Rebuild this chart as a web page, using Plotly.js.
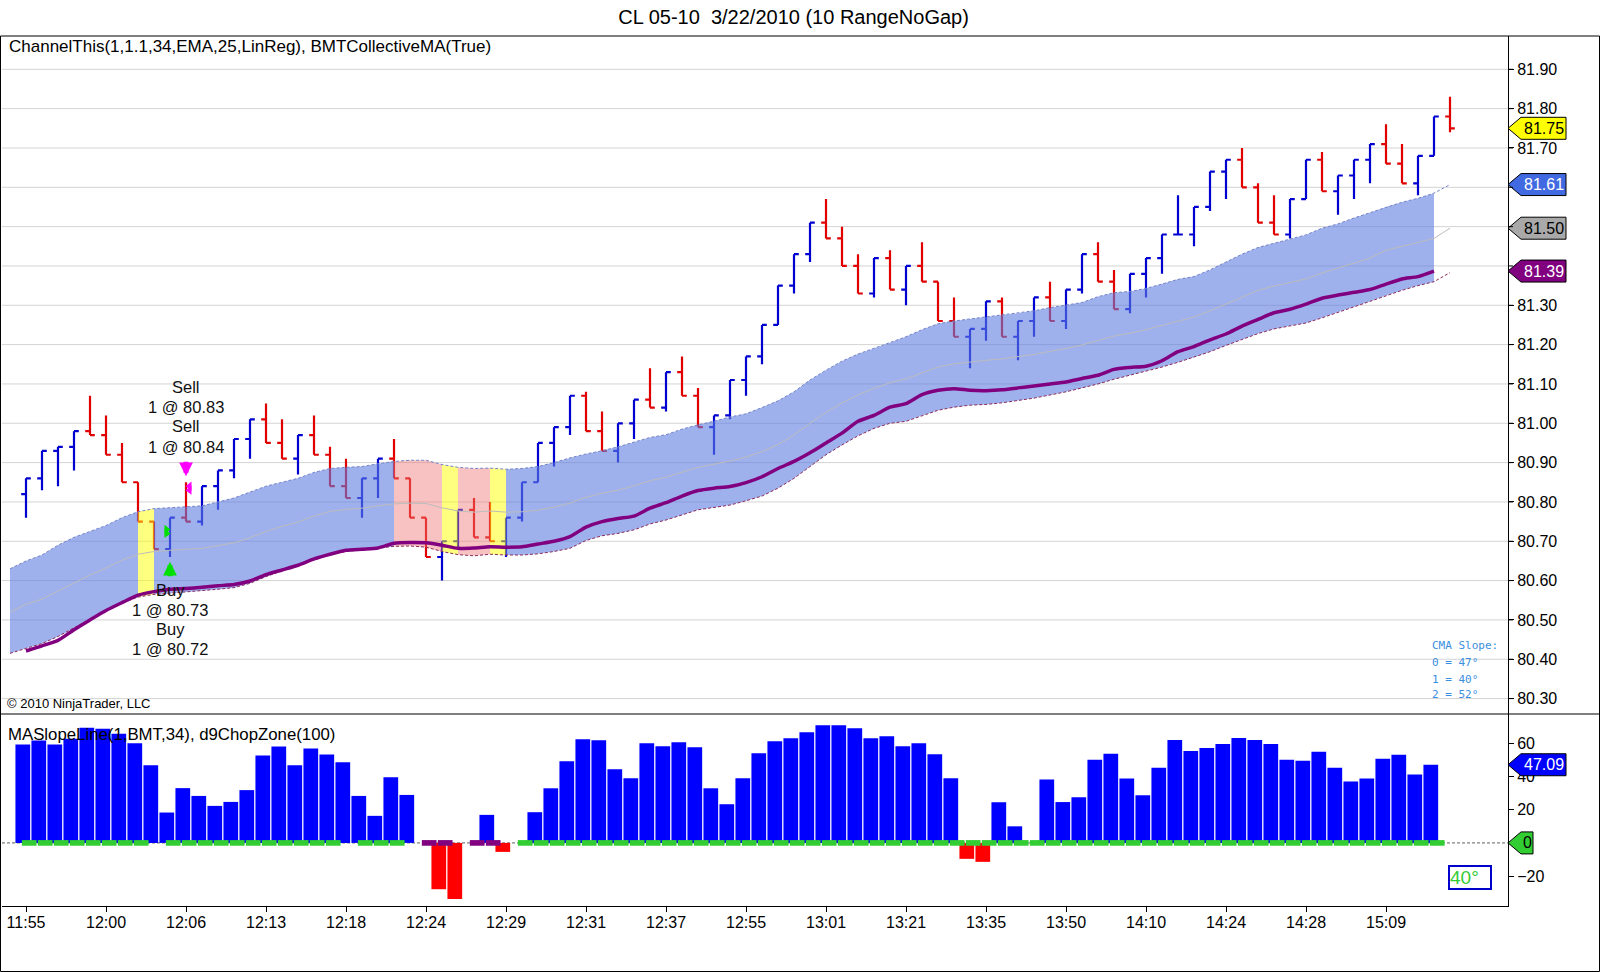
<!DOCTYPE html>
<html>
<head>
<meta charset="utf-8">
<script src="https://cdn.plot.ly/plotly-3.0.1.min.js"></script>
<style>
  html, body { margin: 0; padding: 0; background: #fff; }
  #chart { width: 1600px; height: 972px; }
</style>
</head>
<body>
<div id="chart"></div>
<script>
// 10 tick range bars, one row per 10 bars
const opens = [
  80.82, 80.86, 80.93, 80.94, 80.98, 80.97, 80.92, 80.85, 80.75, 80.68,
  80.76, 80.75, 80.84, 80.88, 80.96, 81.01, 80.95, 80.91, 80.97, 80.92,
  80.84, 80.81, 80.86, 80.91, 80.86, 80.76, 80.66, 80.70, 80.78, 80.71,
  80.70, 80.76, 80.85, 80.95, 80.99, 81.07, 80.98, 80.93, 81.00, 81.06,
  81.04, 81.13, 81.07, 80.99, 81.02, 81.11, 81.17, 81.25, 81.35, 81.43,
  81.51, 81.47, 81.40, 81.33, 81.42, 81.34, 81.40, 81.36, 81.26, 81.22,
  81.24, 81.31, 81.22, 81.26, 81.32, 81.26, 81.34, 81.43, 81.36, 81.29,
  81.38, 81.42, 81.48, 81.48, 81.55, 81.64, 81.67, 81.60, 81.51, 81.48,
  81.57, 81.67, 81.59, 81.63, 81.67, 81.71, 81.66, 81.61, 81.68, 81.78
];
const highs = [
  80.86, 80.93, 80.94, 80.98, 81.07, 81.02, 80.95, 80.85, 80.75, 80.76,
  80.85, 80.84, 80.88, 80.96, 81.01, 81.05, 81.01, 80.97, 81.02, 80.94,
  80.91, 80.86, 80.91, 80.96, 80.86, 80.76, 80.70, 80.78, 80.81, 80.80,
  80.76, 80.85, 80.95, 80.99, 81.07, 81.08, 81.03, 81.00, 81.06, 81.14,
  81.13, 81.17, 81.09, 81.02, 81.11, 81.17, 81.25, 81.35, 81.43, 81.51,
  81.57, 81.50, 81.43, 81.42, 81.44, 81.40, 81.46, 81.36, 81.32, 81.24,
  81.31, 81.32, 81.26, 81.32, 81.36, 81.34, 81.43, 81.46, 81.39, 81.38,
  81.42, 81.48, 81.58, 81.55, 81.64, 81.67, 81.70, 81.61, 81.58, 81.57,
  81.67, 81.69, 81.63, 81.67, 81.71, 81.76, 81.71, 81.68, 81.78, 81.83
];
const lows = [
  80.76, 80.83, 80.84, 80.88, 80.97, 80.92, 80.85, 80.75, 80.68, 80.66,
  80.75, 80.74, 80.78, 80.86, 80.91, 80.95, 80.91, 80.87, 80.92, 80.84,
  80.81, 80.76, 80.81, 80.86, 80.76, 80.66, 80.60, 80.68, 80.71, 80.70,
  80.66, 80.75, 80.85, 80.89, 80.97, 80.98, 80.93, 80.90, 80.96, 81.04,
  81.03, 81.07, 80.99, 80.92, 81.01, 81.07, 81.15, 81.25, 81.33, 81.41,
  81.47, 81.40, 81.33, 81.32, 81.34, 81.30, 81.36, 81.26, 81.22, 81.14,
  81.21, 81.22, 81.16, 81.22, 81.26, 81.24, 81.33, 81.36, 81.29, 81.28,
  81.32, 81.38, 81.48, 81.45, 81.54, 81.57, 81.60, 81.51, 81.48, 81.47,
  81.57, 81.59, 81.53, 81.57, 81.61, 81.66, 81.61, 81.58, 81.68, 81.74
];
const closes = [
  80.86, 80.93, 80.94, 80.98, 80.97, 80.92, 80.85, 80.75, 80.68, 80.76,
  80.75, 80.84, 80.88, 80.96, 81.01, 80.95, 80.91, 80.97, 80.92, 80.84,
  80.81, 80.86, 80.91, 80.86, 80.76, 80.66, 80.70, 80.78, 80.71, 80.70,
  80.76, 80.85, 80.95, 80.99, 81.07, 80.98, 80.93, 81.00, 81.06, 81.04,
  81.13, 81.07, 80.99, 81.02, 81.11, 81.17, 81.25, 81.35, 81.43, 81.51,
  81.47, 81.40, 81.33, 81.42, 81.34, 81.40, 81.36, 81.26, 81.22, 81.24,
  81.31, 81.22, 81.26, 81.32, 81.26, 81.34, 81.43, 81.36, 81.29, 81.38,
  81.42, 81.48, 81.48, 81.55, 81.64, 81.67, 81.60, 81.51, 81.48, 81.57,
  81.67, 81.59, 81.63, 81.67, 81.71, 81.66, 81.61, 81.68, 81.78, 81.75
];

// time label every 5th bar
const timeLabels = ['11:55', '12:00', '12:06', '12:13', '12:18', '12:24', '12:29', '12:31', '12:37',
  '12:55', '13:01', '13:21', '13:35', '13:50', '14:10', '14:24', '14:28', '15:09'];

// ChannelThis band - starts one bar before the first price bar
const bandUpper = [
  80.63, 80.65, 80.665, 80.69, 80.71, 80.725, 80.74, 80.76, 80.775, 80.783,
  80.785, 80.787, 80.79, 80.80, 80.81, 80.825, 80.84, 80.85, 80.86, 80.875,
  80.885, 80.888, 80.89, 80.897, 80.903, 80.906, 80.906, 80.895, 80.888, 80.885,
  80.886, 80.883, 80.885, 80.89, 80.90, 80.912, 80.922, 80.93, 80.94, 80.952,
  80.964, 80.971, 80.985, 80.996, 81.005, 81.016, 81.024, 81.04, 81.057, 81.08,
  81.11, 81.135, 81.158, 81.176, 81.19, 81.205, 81.22, 81.238, 81.253, 81.26,
  81.265, 81.27, 81.275, 81.28, 81.286, 81.294, 81.30, 81.307, 81.322, 81.332,
  81.335, 81.343, 81.354, 81.366, 81.373, 81.39, 81.41, 81.43, 81.447, 81.458,
  81.468, 81.479, 81.496, 81.507, 81.522, 81.535, 81.55, 81.562, 81.572, 81.585,
  81.607
];
const bandMid = [
  80.52, 80.54, 80.553, 80.574, 80.595, 80.614, 80.632, 80.652, 80.667, 80.674,
  80.677, 80.679, 80.682, 80.689, 80.696, 80.709, 80.725, 80.738, 80.749, 80.764,
  80.776, 80.781, 80.784, 80.79, 80.795, 80.797, 80.796, 80.785, 80.777, 80.774,
  80.777, 80.774, 80.775, 80.779, 80.787, 80.797, 80.812, 80.822, 80.83, 80.841,
  80.854, 80.863, 80.876, 80.888, 80.896, 80.904, 80.914, 80.928, 80.946, 80.97,
  81.0, 81.028, 81.052, 81.072, 81.089, 81.103, 81.113, 81.129, 81.143, 81.151,
  81.156, 81.16, 81.164, 81.169, 81.175, 81.183, 81.19, 81.199, 81.211, 81.222,
  81.229, 81.238, 81.249, 81.26, 81.27, 81.286, 81.304, 81.322, 81.338, 81.349,
  81.358, 81.367, 81.382, 81.395, 81.409, 81.42, 81.44, 81.45, 81.46, 81.47,
  81.496
];
const bandLower = [
  80.415, 80.428, 80.44, 80.458, 80.479, 80.502, 80.524, 80.543, 80.558, 80.565,
  80.568, 80.571, 80.574, 80.578, 80.582, 80.593, 80.61, 80.625, 80.637, 80.653,
  80.666, 80.674, 80.678, 80.682, 80.687, 80.688, 80.685, 80.674, 80.666, 80.663,
  80.667, 80.665, 80.665, 80.668, 80.674, 80.682, 80.702, 80.714, 80.72, 80.729,
  80.744, 80.754, 80.767, 80.78, 80.786, 80.792, 80.803, 80.815, 80.835, 80.86,
  80.89, 80.92, 80.945, 80.968, 80.987, 81.0, 81.005, 81.02, 81.033, 81.041,
  81.046, 81.048, 81.052, 81.058, 81.064, 81.072, 81.08, 81.09, 81.10, 81.112,
  81.122, 81.133, 81.143, 81.155, 81.168, 81.182, 81.198, 81.213, 81.228, 81.24,
  81.248, 81.255, 81.268, 81.283, 81.296, 81.31, 81.325, 81.338, 81.35, 81.36,
  81.383
];

// BMTCollectiveMA
const collectiveMA = [
  80.421, 80.434, 80.448, 80.475, 80.50, 80.524, 80.544, 80.563, 80.572, 80.578,
  80.58, 80.583, 80.587, 80.59, 80.599, 80.615, 80.627, 80.639, 80.655, 80.667,
  80.677, 80.68, 80.683, 80.695, 80.697, 80.696, 80.69, 80.682, 80.683, 80.686,
  80.685, 80.686, 80.693, 80.70, 80.712, 80.736, 80.75, 80.758, 80.764, 80.784,
  80.798, 80.815, 80.829, 80.835, 80.839, 80.849, 80.864, 80.885, 80.903, 80.925,
  80.95, 80.975, 81.005, 81.02, 81.041, 81.05, 81.073, 81.084, 81.088, 81.084,
  81.083, 81.085, 81.09, 81.095, 81.10, 81.105, 81.114, 81.122, 81.137, 81.142,
  81.145, 81.159, 81.182, 81.195, 81.212, 81.227, 81.247, 81.264, 81.281, 81.29,
  81.303, 81.318, 81.326, 81.333, 81.34, 81.354, 81.367, 81.373, 81.387
];

// MASlopeLine histogram
const slopeHist = [
  59.3, 61.7, 59.3, 62.7, 69.3, 68.7, 65.7, 60.1, 46.8, 18.3,
  33.0, 28.3, 22.3, 24.7, 31.8, 52.7, 58.1, 46.8, 56.9, 53.3,
  48.6, 28.3, 16.3, 39.6, 28.9, 0, -27.9, -33.8, 0, 16.9,
  -5.4, 0, 18.5, 32.9, 49.2, 62.4, 61.8, 44.4, 39.0, 60.0,
  58.2, 60.6, 57.6, 32.9, 23.3, 39.0, 54.0, 61.2, 63.1, 66.7,
  70.9, 70.9, 69.1, 63.1, 64.3, 58.2, 60.0, 53.4, 39.0, -9.6,
  -11.4, 24.5, 10.0, 0, 38.2, 24.6, 27.5, 50.1, 53.7, 38.8,
  28.7, 45.3, 62.0, 55.4, 57.2, 59.6, 63.2, 62.0, 59.6, 50.1,
  49.5, 54.9, 45.3, 37.0, 38.8, 50.7, 53.1, 41.2, 47.09
];

// chop zone state per bar
const yellowBars = [8, 27, 30];
const pinkBars = [24, 25, 26, 28, 29];
const chopPurple = [25, 26, 28, 29];
const chopNone = [8, 20, 24, 27, 30];

const sells = [80.83, 80.84];
const buys = [80.73, 80.72];
const cmaSlopes = [47, 40, 52];
const currentSlope = 40;

const BLUE = '#0000d0', RED = '#e00000';

const idx = closes.map((_, i) => i);
const bandX = bandUpper.map((_, k) => k - 1);

let traces = [];

// band fill, one piece per bar so the seams show like in NT
for (let i = 0; i < collectiveMA.length; i++) {
  let col = 'rgba(95,125,225,0.6)';
  if (yellowBars.includes(i)) col = 'rgba(255,255,0,0.5)';
  if (pinkBars.includes(i)) col = 'rgba(240,120,120,0.45)';
  let a = i, b = i + 1;
  traces.push({
    x: [bandX[a], bandX[b], bandX[b], bandX[a]],
    y: [bandUpper[a], bandUpper[b], bandLower[b], bandLower[a]],
    type: 'scatter', mode: 'lines', fill: 'toself', fillcolor: col,
    line: {width: 0}, hoverinfo: 'skip'
  });
}

traces.push({x: bandX, y: bandMid, type: 'scatter', mode: 'lines',
  line: {color: '#bcbcbc', width: 1}});
traces.push({x: bandX, y: bandUpper, type: 'scatter', mode: 'lines',
  line: {color: '#7484c8', width: 1, dash: '3px,2px'}});
traces.push({x: bandX, y: bandLower, type: 'scatter', mode: 'lines',
  line: {color: '#8b2a5a', width: 1, dash: '3px,2px'}});
traces.push({x: idx.slice(0, collectiveMA.length), y: collectiveMA, type: 'scatter', mode: 'lines',
  line: {color: '#800080', width: 3.5, shape: 'spline', smoothing: 0.6}});

traces.push({
  type: 'ohlc', x: idx, open: opens, high: highs, low: lows, close: closes,
  increasing: {line: {color: BLUE}}, decreasing: {line: {color: RED}},
  line: {width: 2.2}, tickwidth: 0.3, hoverinfo: 'skip'
});

// trade markers
traces.push({x: buys.map(() => 9 - 0.22), y: buys, type: 'scatter', mode: 'markers',
  marker: {symbol: 'triangle-right', size: 8, color: '#00e000'}});
traces.push({x: sells.map(() => 10 + 0.22), y: sells, type: 'scatter', mode: 'markers',
  marker: {symbol: 'triangle-left', size: 8, color: '#ff00ff'}});

// lower panel
traces.push({
  x: idx.slice(0, slopeHist.length), y: slopeHist, type: 'bar', xaxis: 'x', yaxis: 'y2',
  width: 0.92, marker: {color: slopeHist.map(v => v >= 0 ? '#0000ff' : '#ff0000'), line: {width: 0}}
});
let chopX = [], chopCol = [];
slopeHist.forEach((v, i) => {
  if (chopNone.includes(i)) return;
  chopX.push(i);
  chopCol.push(chopPurple.includes(i) ? '#800080' : '#32cd32');
});
traces.push({
  x: chopX, y: chopX.map(() => 3.4), base: chopX.map(() => -1.7), type: 'bar',
  xaxis: 'x', yaxis: 'y2', width: 0.92, marker: {color: chopCol, line: {width: 0}}
});

// pixel helpers for the plot box (l=2, r=92, t=36, b=66)
const px = v => (v - 2) / 1506;
const py = v => (906 - v) / 870;

let ticks5 = timeLabels.map((_, k) => k * 5);

// right side value flags
function flag(val, yref, fill, w) {
  return {
    type: 'path', xref: 'paper', yref: yref, xsizemode: 'pixel', ysizemode: 'pixel',
    xanchor: 1, yanchor: val,
    path: 'M0,0L13,11L' + w + ',11L' + w + ',-11L13,-11Z',
    fillcolor: fill, line: {color: '#000', width: 1}, layer: 'above'
  };
}
function flagText(val, yref, txt, col, shift) {
  return {xref: 'paper', yref: yref, x: 1, y: val, xanchor: 'left', yanchor: 'middle',
    xshift: shift, text: txt, showarrow: false, font: {size: 16, color: col}};
}

const last = closes.length - 1;
const flags = [
  [closes[last], 'y', '#ffff00', '#000'],
  [bandUpper[bandUpper.length - 1], 'y', '#4169e1', '#fff'],
  [bandMid[bandMid.length - 1], 'y', '#a9a9a9', '#000'],
  [collectiveMA[collectiveMA.length - 1], 'y', '#800080', '#fff'],
  [slopeHist[slopeHist.length - 1], 'y2', '#0000ff', '#fff']
];

// price tick labels that sit under a flag are left out
let priceTicks = [];
for (let k = 0; k <= 16; k++) {
  let v = Math.round((80.3 + k * 0.1) * 100) / 100;
  if (flags.some(f => f[1] === 'y' && Math.abs(f[0] - v) < 0.03)) continue;
  priceTicks.push(v);
}

let shapes = [
  {type: 'line', xref: 'paper', yref: 'y2', x0: 0, x1: 1, y0: 0, y1: 0,
    line: {color: '#606060', width: 1, dash: '3px,2px'}, layer: 'below'},
  {type: 'rect', xref: 'paper', yref: 'paper', x0: px(0.5), x1: px(1599.5), y0: py(971.5), y1: py(36),
    line: {color: '#000', width: 1}},
  {type: 'line', xref: 'paper', yref: 'paper', x0: px(0.5), x1: px(1599.5), y0: py(714), y1: py(714),
    line: {color: '#000', width: 1}}
];
let annotations = [];
flags.forEach(f => {
  shapes.push(flag(f[0], f[1], f[2], 58));
  annotations.push(flagText(f[0], f[1], f[0].toFixed(2), f[3], 14));
});
shapes.push(flag(0, 'y2', '#32cd32', 25));
annotations.push(flagText(0, 'y2', '0', '#000', 13));

annotations.push(
  {xref: 'paper', yref: 'paper', x: px(7), y: py(47), xanchor: 'left', yanchor: 'middle',
    text: 'ChannelThis(1,1.1,34,EMA,25,LinReg), BMTCollectiveMA(True)', showarrow: false, font: {size: 17}},
  {xref: 'paper', yref: 'paper', x: px(6), y: py(734), xanchor: 'left', yanchor: 'middle',
    text: 'MASlopeLine(1,BMT,34), d9ChopZone(100)', showarrow: false, font: {size: 16.8}},
  {xref: 'paper', yref: 'paper', x: px(5), y: py(703), xanchor: 'left', yanchor: 'middle',
    text: '\u00a9 2010 NinjaTrader, LLC', showarrow: false, font: {size: 13}},
  {x: 10, y: 80.865, ax: 0, ay: -16, text: '', showarrow: true, arrowhead: 2, arrowsize: 0.55,
    arrowwidth: 5, arrowcolor: '#ff00ff'},
  {x: 9, y: 80.648, ax: 0, ay: 16, text: '', showarrow: true, arrowhead: 2, arrowsize: 0.55,
    arrowwidth: 5, arrowcolor: '#00e000'},
  {xref: 'paper', yref: 'y2', x: px(1469.5), y: -20.8, xanchor: 'center', yanchor: 'middle',
    text: currentSlope + '\u00b0', showarrow: false, width: 40, align: 'left',
    font: {size: 19, color: '#33cc33'}, bordercolor: '#0000cc', borderwidth: 2, borderpad: 0, bgcolor: '#fff'}
);

// trade labels, one line each
const sellLines = [].concat(...sells.map(p => ['Sell', '1 @ ' + p.toFixed(2)]));
const buyLines = [].concat(...buys.map(p => ['Buy', '1 @ ' + p.toFixed(2)]));
const sellY = [386.7, 407.3, 426, 446.7];
const buyY = [590, 610, 629.3, 648.7];
sellLines.forEach((t, k) => annotations.push({x: 10, xref: 'x', yref: 'paper', y: py(sellY[k]),
  xanchor: 'center', yanchor: 'middle', text: t, showarrow: false, font: {size: 16.5, color: '#111'}}));
buyLines.forEach((t, k) => annotations.push({x: 9, xref: 'x', yref: 'paper', y: py(buyY[k]),
  xanchor: 'center', yanchor: 'middle', text: t, showarrow: false, font: {size: 16.5, color: '#111'}}));

const slopeLines = ['CMA Slope:'].concat(cmaSlopes.map((s, k) => k + ' = ' + s + '\u00b0'));
const slopeY = [646, 662.7, 679, 694];
slopeLines.forEach((t, k) => {
  annotations.push({xref: 'paper', yref: 'paper', x: px(1430), y: py(slopeY[k]), xanchor: 'left', yanchor: 'middle',
    text: t, showarrow: false, font: {family: 'DejaVu Sans Mono, monospace', size: 11, color: '#3a8ee0'}});
});

const layout = {
  width: 1600, height: 972,
  margin: {l: 2, r: 92, t: 36, b: 66},
  paper_bgcolor: '#fff', plot_bgcolor: '#fff',
  showlegend: false, hovermode: false,
  font: {family: 'Liberation Sans, Arial, sans-serif', size: 16, color: '#000'},
  title: {text: 'CL 05-10 \u00a03/22/2010 (10 RangeNoGap)', xref: 'container', x: 0.496, xanchor: 'center',
    yref: 'container', y: 0.983, yanchor: 'middle', font: {size: 20}},
  xaxis: {range: [-1.5, 92.625], anchor: 'y2', tickvals: ticks5, ticktext: timeLabels,
    ticks: 'outside', ticklen: 5, tickcolor: '#000', ticklabelstandoff: -3,
    showline: true, linecolor: '#000', linewidth: 1,
    showgrid: false, zeroline: false, rangeslider: {visible: false}, fixedrange: true},
  yaxis: {domain: [py(714), 1], range: [80.2608, 81.9847], side: 'right', anchor: 'x',
    tickvals: priceTicks, tickformat: '.2f', ticks: 'outside', ticklen: 5, tickcolor: '#000',
    showline: true, linecolor: '#000', showgrid: false, zeroline: false},
  yaxis2: {domain: [0, py(714)], range: [-38, 77.65], side: 'right', anchor: 'x',
    tickvals: [-20, 20, 40, 60], ticks: 'outside', ticklen: 5, tickcolor: '#000',
    showline: true, linecolor: '#000', showgrid: false, zeroline: false},
  shapes: shapes,
  annotations: annotations
};

// gridlines every 0.10, including those under the flags
for (let k = 0; k <= 16; k++) {
  let v = 80.3 + k * 0.1;
  layout.shapes.push({type: 'line', xref: 'paper', yref: 'y', x0: 0, x1: 1, y0: v, y1: v,
    line: {color: '#d4d4d4', width: 1}, layer: 'below'});
}
// tick marks for the hidden labels too
for (let k = 0; k <= 16; k++) {
  let v = 80.3 + k * 0.1;
  layout.shapes.push({type: 'line', xref: 'paper', yref: 'y', xsizemode: 'pixel', xanchor: 1,
    x0: 0, x1: 5, y0: v, y1: v, line: {color: '#000', width: 1}});
}

Plotly.newPlot('chart', traces, layout, {displayModeBar: false, staticPlot: true});
</script>
</body>
</html>
